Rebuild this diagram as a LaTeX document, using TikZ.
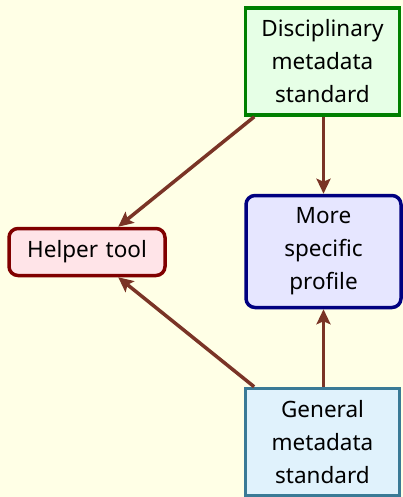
\documentclass[tikz,border=0pt]{standalone}
\usepackage{fontspec}
\setmainfont{Noto Sans}
\usetikzlibrary{arrows.meta}
\definecolor{bgc}{HTML}{FFFFE6}
\definecolor{arr}{HTML}{7A3426}
\begin{document}
\begin{tikzpicture}[x=1pt,y=-1pt,
  box/.style={draw, line width=3.5pt, align=center, inner sep=0pt,
    font=\fontsize{22.5}{33}\selectfont, text width=150pt},
  link/.style={draw=arr, line width=3.5pt, -{Stealth[length=15pt,width=14pt,inset=3pt]}}]
\fill[bgc] (0,0) rectangle (403,497);
\useasboundingbox (0,0) rectangle (403,497);
\node[box, draw={rgb,255:red,0;green,128;blue,0}, fill={rgb,255:red,230;green,255;blue,230},
  minimum width=154pt, minimum height=107pt] (disc) at (322.5,61.5) {Disciplinary\\metadata\\standard};
\node[box, draw={rgb,255:red,58;green,122;blue,150}, fill={rgb,255:red,224;green,242;blue,252},
  minimum width=154pt, minimum height=107pt] (gen) at (322.5,442) {General\\metadata\\standard};
\node[box, rounded corners=9pt, draw={rgb,255:red,0;green,0;blue,128}, fill={rgb,255:red,230;green,230;blue,255},
  minimum width=155pt, minimum height=112pt] (spec) at (323.5,251.5) {More\\specific\\profile};
\node[box, rounded corners=9pt, draw={rgb,255:red,128;green,0;blue,0}, fill={rgb,255:red,255;green,228;blue,232},
  minimum width=156pt, minimum height=47pt, text width=150pt] (help) at (87,252) {Helper tool};
\draw[link] (disc) -- (help);
\draw[link] (gen) -- (help);
\draw[link] (disc.south -| spec.north) -- (spec.north);
\draw[link] (gen.north -| spec.south) -- (spec.south);
\end{tikzpicture}
\end{document}
